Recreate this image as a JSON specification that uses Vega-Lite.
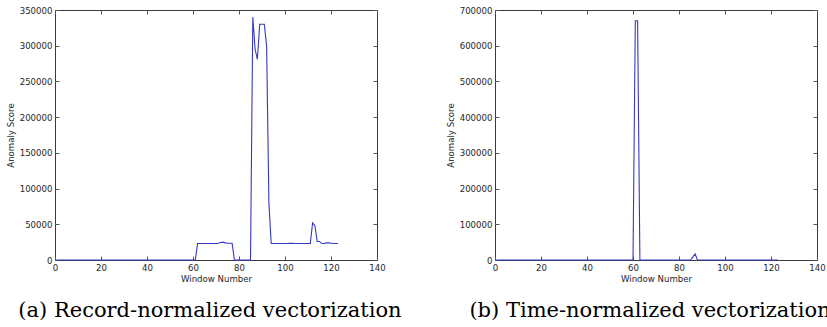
{
  "$schema": "https://vega.github.io/schema/vega-lite/v6.json",
  "padding": {"left": 5, "top": 5, "right": 0, "bottom": 0},
  "bounds": "flush",
  "spacing": 118,
  "background": "white",
  "datasets": {
    "a": [
      {"window":0,"score":0},{"window":1,"score":0},{"window":2,"score":0},{"window":3,"score":0},{"window":4,"score":0},{"window":5,"score":0},{"window":6,"score":0},{"window":7,"score":0},{"window":8,"score":0},{"window":9,"score":0},
      {"window":10,"score":0},{"window":11,"score":0},{"window":12,"score":0},{"window":13,"score":0},{"window":14,"score":0},{"window":15,"score":0},{"window":16,"score":0},{"window":17,"score":0},{"window":18,"score":0},{"window":19,"score":0},
      {"window":20,"score":0},{"window":21,"score":0},{"window":22,"score":0},{"window":23,"score":0},{"window":24,"score":0},{"window":25,"score":0},{"window":26,"score":0},{"window":27,"score":0},{"window":28,"score":0},{"window":29,"score":0},
      {"window":30,"score":0},{"window":31,"score":0},{"window":32,"score":0},{"window":33,"score":0},{"window":34,"score":0},{"window":35,"score":0},{"window":36,"score":0},{"window":37,"score":0},{"window":38,"score":0},{"window":39,"score":0},
      {"window":40,"score":0},{"window":41,"score":0},{"window":42,"score":0},{"window":43,"score":0},{"window":44,"score":0},{"window":45,"score":0},{"window":46,"score":0},{"window":47,"score":0},{"window":48,"score":0},{"window":49,"score":0},
      {"window":50,"score":0},{"window":51,"score":0},{"window":52,"score":0},{"window":53,"score":0},{"window":54,"score":0},{"window":55,"score":0},{"window":56,"score":0},{"window":57,"score":0},{"window":58,"score":0},{"window":59,"score":0},
      {"window":60,"score":0},{"window":61,"score":0},{"window":62,"score":23000},{"window":63,"score":23000},{"window":64,"score":23000},{"window":65,"score":23000},{"window":66,"score":23000},{"window":67,"score":23000},{"window":68,"score":23000},{"window":69,"score":23000},
      {"window":70,"score":23000},{"window":71,"score":23500},{"window":72,"score":24500},{"window":73,"score":25000},{"window":74,"score":24000},{"window":75,"score":23500},{"window":76,"score":23500},{"window":77,"score":23500},{"window":78,"score":0},{"window":79,"score":0},
      {"window":80,"score":0},{"window":81,"score":0},{"window":82,"score":0},{"window":83,"score":0},{"window":84,"score":0},{"window":85,"score":0},{"window":86,"score":340000},{"window":87,"score":295000},{"window":88,"score":281000},{"window":89,"score":330000},
      {"window":90,"score":330000},{"window":91,"score":330000},{"window":92,"score":300000},{"window":93,"score":80000},{"window":94,"score":23000},{"window":95,"score":23000},{"window":96,"score":23000},{"window":97,"score":23000},{"window":98,"score":23000},{"window":99,"score":23000},
      {"window":100,"score":23000},{"window":101,"score":23000},{"window":102,"score":23500},{"window":103,"score":23300},{"window":104,"score":23000},{"window":105,"score":23000},{"window":106,"score":23000},{"window":107,"score":23000},{"window":108,"score":23000},{"window":109,"score":23000},
      {"window":110,"score":23000},{"window":111,"score":23000},{"window":112,"score":52000},{"window":113,"score":48000},{"window":114,"score":26000},{"window":115,"score":26000},{"window":116,"score":23000},{"window":117,"score":23000},{"window":118,"score":24000},{"window":119,"score":24000},
      {"window":120,"score":23500},{"window":121,"score":23000},{"window":122,"score":23000},{"window":123,"score":23000}
    ],
    "b": [
      {"window":0,"score":0},{"window":1,"score":0},{"window":2,"score":0},{"window":3,"score":0},{"window":4,"score":0},{"window":5,"score":0},{"window":6,"score":0},{"window":7,"score":0},{"window":8,"score":0},{"window":9,"score":0},
      {"window":10,"score":0},{"window":11,"score":0},{"window":12,"score":0},{"window":13,"score":0},{"window":14,"score":0},{"window":15,"score":0},{"window":16,"score":0},{"window":17,"score":0},{"window":18,"score":0},{"window":19,"score":0},
      {"window":20,"score":0},{"window":21,"score":0},{"window":22,"score":0},{"window":23,"score":0},{"window":24,"score":0},{"window":25,"score":0},{"window":26,"score":0},{"window":27,"score":0},{"window":28,"score":0},{"window":29,"score":0},
      {"window":30,"score":0},{"window":31,"score":0},{"window":32,"score":0},{"window":33,"score":0},{"window":34,"score":0},{"window":35,"score":0},{"window":36,"score":0},{"window":37,"score":0},{"window":38,"score":0},{"window":39,"score":0},
      {"window":40,"score":0},{"window":41,"score":0},{"window":42,"score":0},{"window":43,"score":0},{"window":44,"score":0},{"window":45,"score":0},{"window":46,"score":0},{"window":47,"score":0},{"window":48,"score":0},{"window":49,"score":0},
      {"window":50,"score":0},{"window":51,"score":0},{"window":52,"score":0},{"window":53,"score":0},{"window":54,"score":0},{"window":55,"score":0},{"window":56,"score":0},{"window":57,"score":0},{"window":58,"score":0},{"window":59,"score":0},
      {"window":60,"score":0},{"window":61,"score":670000},{"window":62,"score":670000},{"window":63,"score":0},{"window":64,"score":0},{"window":65,"score":0},{"window":66,"score":0},{"window":67,"score":0},{"window":68,"score":0},{"window":69,"score":0},
      {"window":70,"score":0},{"window":71,"score":0},{"window":72,"score":0},{"window":73,"score":0},{"window":74,"score":0},{"window":75,"score":0},{"window":76,"score":0},{"window":77,"score":0},{"window":78,"score":0},{"window":79,"score":0},
      {"window":80,"score":0},{"window":81,"score":0},{"window":82,"score":0},{"window":83,"score":0},{"window":84,"score":0},{"window":85,"score":0},{"window":86,"score":8000},{"window":87,"score":17000},{"window":88,"score":0},{"window":89,"score":0},
      {"window":90,"score":0},{"window":91,"score":0},{"window":92,"score":0},{"window":93,"score":0},{"window":94,"score":0},{"window":95,"score":0},{"window":96,"score":0},{"window":97,"score":0},{"window":98,"score":0},{"window":99,"score":0},
      {"window":100,"score":0},{"window":101,"score":0},{"window":102,"score":0},{"window":103,"score":0},{"window":104,"score":0},{"window":105,"score":0},{"window":106,"score":0},{"window":107,"score":0},{"window":108,"score":0},{"window":109,"score":0},
      {"window":110,"score":0},{"window":111,"score":0},{"window":112,"score":0},{"window":113,"score":0},{"window":114,"score":0},{"window":115,"score":0},{"window":116,"score":0},{"window":117,"score":0},{"window":118,"score":0},{"window":119,"score":0},
      {"window":120,"score":0},{"window":121,"score":0},{"window":122,"score":0},{"window":123,"score":0}
    ]
  },
  "hconcat": [
    {
      "width": 322,
      "height": 250,
      "title": {"text": "(a) Record-normalized vectorization", "orient": "bottom", "anchor": "middle", "dx": -6},
      "data": {"name": "a"},
      "layer": [
        {
          "mark": {"type": "line", "color": "#3838c4", "strokeWidth": 1.1},
          "encoding": {
            "x": {"field": "window", "type": "quantitative", "scale": {"domain": [0, 140], "nice": false},
                  "axis": {"values": [0, 20, 40, 60, 80, 100, 120, 140], "title": "Window Number"}},
            "y": {"field": "score", "type": "quantitative", "scale": {"domain": [0, 350000], "nice": false},
                  "axis": {"values": [0, 50000, 100000, 150000, 200000, 250000, 300000, 350000], "format": "d", "title": "Anomaly Score"}}
          }
        },
        {
          "mark": {"type": "line", "opacity": 0},
          "encoding": {
            "x": {"field": "window", "type": "quantitative", "scale": {"domain": [0, 140], "nice": false},
                  "axis": {"orient": "top", "values": [0, 20, 40, 60, 80, 100, 120, 140], "labels": false, "title": null}},
            "y": {"field": "score", "type": "quantitative", "scale": {"domain": [0, 350000], "nice": false},
                  "axis": {"orient": "right", "values": [0, 50000, 100000, 150000, 200000, 250000, 300000, 350000], "labels": false, "title": null}}
          }
        }
      ],
      "resolve": {"axis": {"x": "independent", "y": "independent"}}
    },
    {
      "width": 322,
      "height": 250,
      "title": {"text": "(b) Time-normalized vectorization", "orient": "bottom", "anchor": "middle", "dx": -6},
      "data": {"name": "b"},
      "layer": [
        {
          "mark": {"type": "line", "color": "#3838c4", "strokeWidth": 1.1},
          "encoding": {
            "x": {"field": "window", "type": "quantitative", "scale": {"domain": [0, 140], "nice": false},
                  "axis": {"values": [0, 20, 40, 60, 80, 100, 120, 140], "title": "Window Number"}},
            "y": {"field": "score", "type": "quantitative", "scale": {"domain": [0, 700000], "nice": false},
                  "axis": {"values": [0, 100000, 200000, 300000, 400000, 500000, 600000, 700000], "format": "d", "title": "Anomaly Score"}}
          }
        },
        {
          "mark": {"type": "line", "opacity": 0},
          "encoding": {
            "x": {"field": "window", "type": "quantitative", "scale": {"domain": [0, 140], "nice": false},
                  "axis": {"orient": "top", "values": [0, 20, 40, 60, 80, 100, 120, 140], "labels": false, "title": null}},
            "y": {"field": "score", "type": "quantitative", "scale": {"domain": [0, 700000], "nice": false},
                  "axis": {"orient": "right", "values": [0, 100000, 200000, 300000, 400000, 500000, 600000, 700000], "labels": false, "title": null}}
          }
        }
      ],
      "resolve": {"axis": {"x": "independent", "y": "independent"}}
    }
  ],
  "config": {
    "view": {"stroke": "#3a3a3a", "strokeWidth": 1},
    "axis": {
      "labelFont": "DejaVu Sans", "labelFontSize": 8.6, "labelColor": "#262626",
      "titleFont": "DejaVu Sans", "titleFontSize": 8.6, "titleFontWeight": "normal", "titleColor": "#262626",
      "tickSize": -4, "tickColor": "#555555", "domain": false, "grid": false,
      "labelPadding": 7, "labelFlush": false, "labelOverlap": false
    },
    "axisX": {"titlePadding": 3},
    "axisY": {"titlePadding": 4},
    "title": {"font": "DejaVu Serif", "fontSize": 21, "fontWeight": "normal", "color": "#000000", "offset": 17}
  }
}
